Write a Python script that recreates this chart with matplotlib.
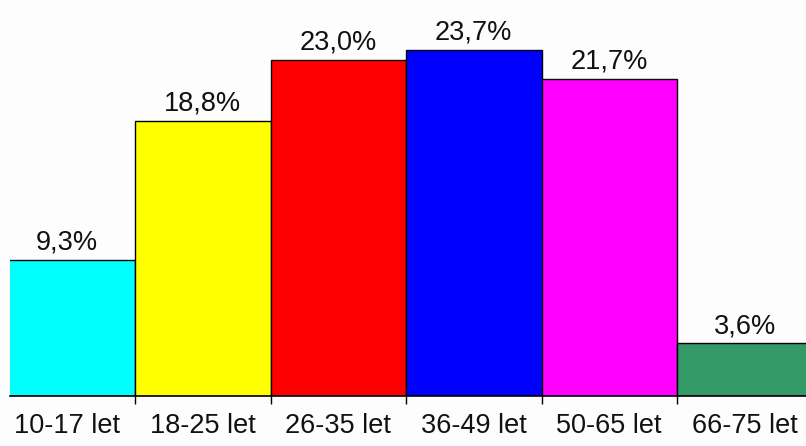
import matplotlib.pyplot as plt

# Age groups and their shares (%)
skupiny = ['10-17 let', '18-25 let', '26-35 let', '36-49 let', '50-65 let', '66-75 let']
podil = [9.3, 18.8, 23.0, 23.7, 21.7, 3.6]
barvy = ['#00FFFF', '#FFFF00', '#FF0000', '#0000FF', '#FF00FF', '#339966']

plt.rcParams['font.family'] = ['Liberation Sans', 'DejaVu Sans']

W, H = 806, 446
fig = plt.figure(figsize=(W / 100, H / 100), dpi=100, facecolor='#FDFDFD')
# axes: from x=10 px to the right edge, baseline at y=396 px
ax = fig.add_axes([10 / W, (H - 396) / H, 1 - 10 / W, 396 / H])
ax.set_facecolor('#FDFDFD')

x = list(range(len(skupiny)))
ax.bar(x, podil, width=1.0, color=barvy, edgecolor='black', linewidth=1.0)

for xi, v in zip(x, podil):
    ax.annotate(f'{v:.1f}%'.replace('.', ','), (xi, v), xytext=(0, 3),
                textcoords='offset points', ha='center', va='bottom',
                fontsize=19.5, color='#111111')

px = 135.5  # pixels per bar
ax.set_xlim(-0.5 + 10.5 / px, -0.5 + 10.5 / px + (W - 10) / px)
ax.set_ylim(0, 396 / 14.62)

for s in ['top', 'right', 'left']:
    ax.spines[s].set_visible(False)
ax.spines['bottom'].set_linewidth(1.2)
ax.set_yticks([])
ax.set_xticks(x)
ax.set_xticklabels(skupiny, fontsize=19.5, color='#111111')
ax.tick_params(axis='x', which='major', length=0, pad=12)
ax.set_xticks([i + 0.5 for i in x[:-1]], minor=True)
ax.tick_params(axis='x', which='minor', length=6, width=1, direction='out')

fig.savefig('out.png', dpi=100, facecolor=fig.get_facecolor())
